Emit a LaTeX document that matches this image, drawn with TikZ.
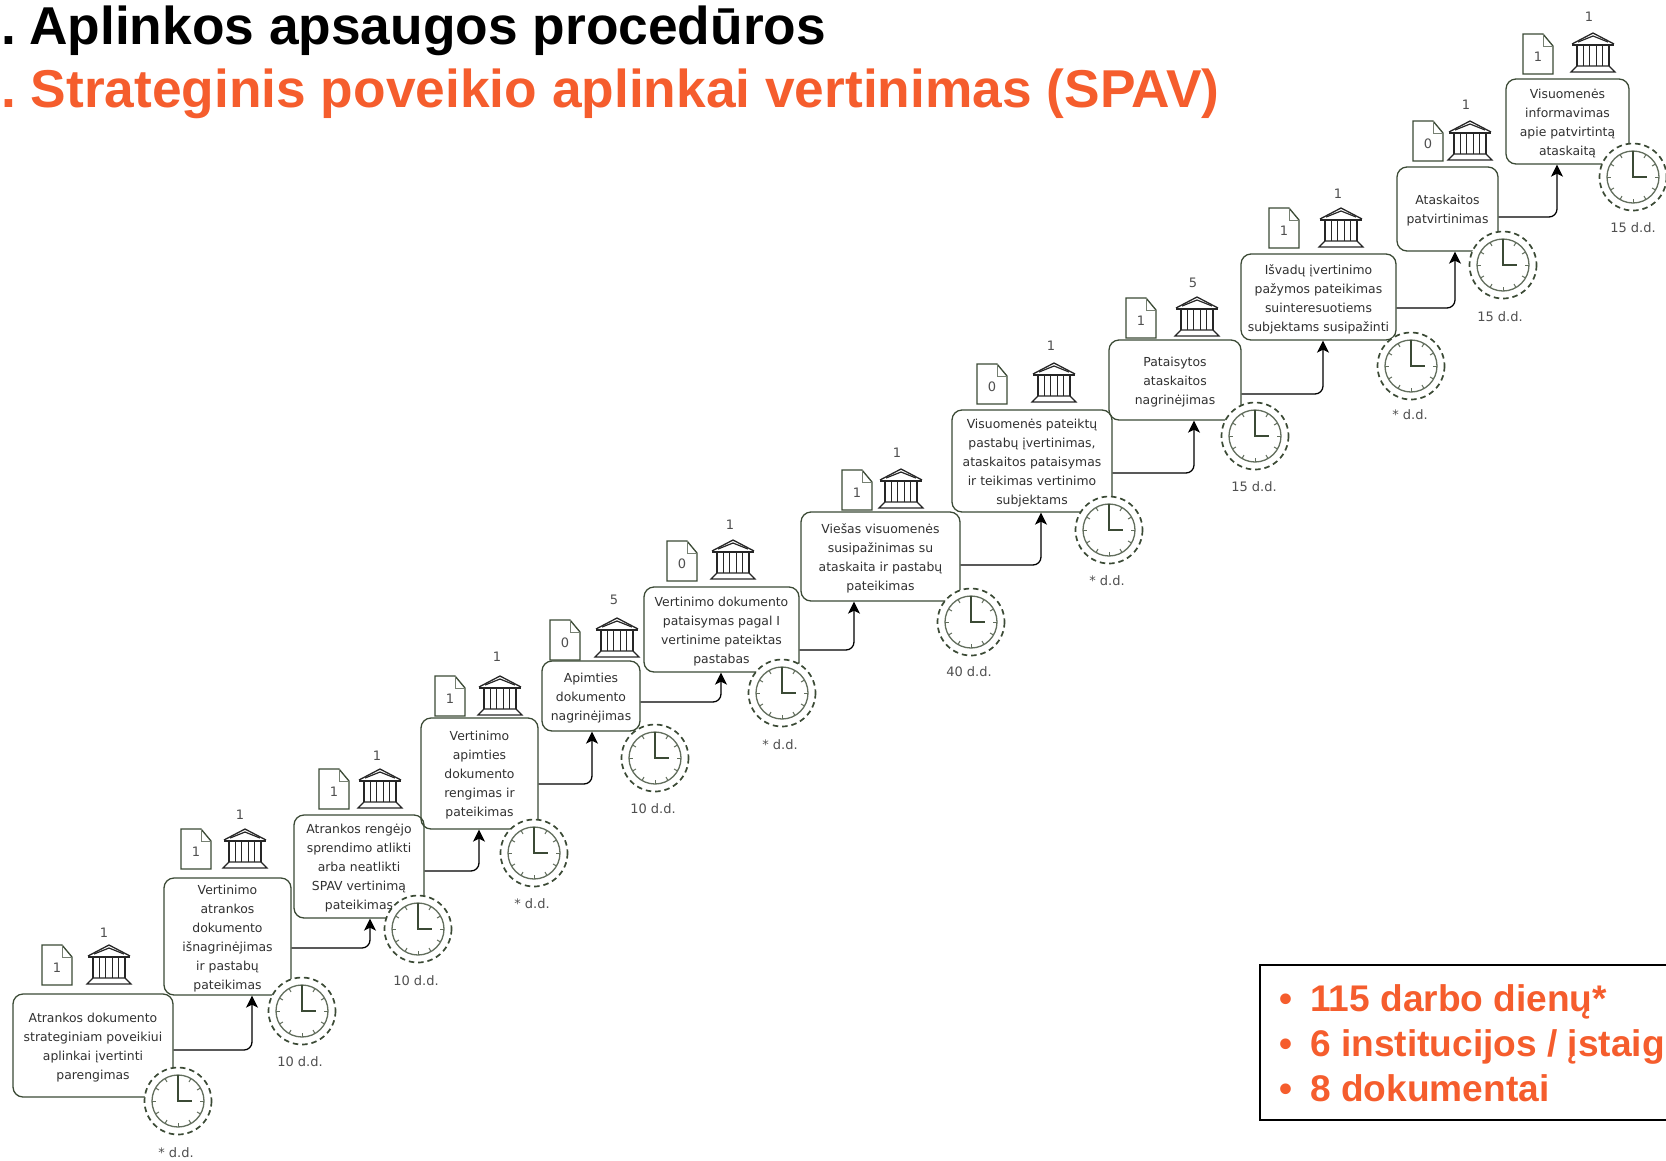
\documentclass[tikz,border=0pt]{standalone}
\usepackage{fontspec}
\setmainfont{Liberation Sans}
\newfontfamily\boxfont{DejaVu Sans}
\usetikzlibrary{arrows.meta}
\definecolor{olive}{HTML}{3B4A35}
\definecolor{orangetitle}{HTML}{F55D2D}
\definecolor{boxtext}{HTML}{303030}
\tikzset{
  stepbox/.style={draw=olive,line width=1.3pt,rounded corners=10pt,inner sep=0pt},
  steptext/.style={inner sep=0pt,yshift=-2pt,align=center,text=boxtext,font=\boxfont\fontsize{12.4}{19}\selectfont},
  smalltext/.style={inner sep=0pt,text=boxtext!85,font=\boxfont\fontsize{13}{15}\selectfont},
  titletext/.style={anchor=base west,inner sep=0pt,font=\bfseries\fontsize{53.3}{60}\selectfont},
  factline/.style={anchor=base west,inner sep=0pt,text=orangetitle,font=\bfseries\fontsize{37.1}{45}\selectfont},
  link/.style={draw=black,line width=1.3pt,rounded corners=8pt,-{Stealth[length=12pt,width=12pt,inset=3pt]}},
  docicon/.pic={
    \draw[olive,line width=1.3pt,fill=white] (-15,-20) -- (5,-20) -- (15,-8) -- (15,20) -- (-15,20) -- cycle;
    \draw[olive!70,line width=1pt] (5,-20) -- (5,-8) -- (15,-8);
  },
  bankicon/.pic={
    \draw[black!85,line width=1.3pt,line join=round] (-21,-9) -- (0,-20) -- (21,-9);
    \draw[black!85,line width=1.2pt] (-15,-11) -- (0,-17) -- (15,-11);
    \draw[black!85,line width=2pt] (-21,-8) -- (21,-8);
    \foreach \x in {-16,-9.6,...,16.1}
    {\draw[black!85,line width=1.2pt] (\x,-7) -- (\x,13);}
    \draw[black!85,line width=1.2pt] (-16,13) -- (-22,19) -- (22,19) -- (16,13) -- cycle;
  },
  clockface/.pic={
    \draw[olive,line width=1.7pt,dash pattern=on 5.5pt off 3.9pt,fill=white] (0,0) circle (33.5);
    \draw[olive!80,line width=1.3pt] (0,0) circle (26);
    \foreach \a in {0,30,...,330}
    {\draw[olive!80,line width=1pt] (\a:26) -- (\a:22);}
    \draw[olive,line width=1.4pt] (0,-26) -- (0,0) -- (14,0);
  }
}
\begin{document}
\begin{tikzpicture}[x={(1pt,0)},y={(0,-1pt)}]
  \useasboundingbox (0,0) rectangle (1666,1160);
  \node[titletext] (title) at (1,44) {.\hspace{-6.5pt} Aplinkos apsaugos procedūros};
  \node[titletext,text=orangetitle] (subtitle) at (1,107) {.\hspace{-5pt} Strateginis poveikio aplinkai vertinimas (SPAV)};
  % steps
  \foreach \n/\x/\y/\w/\h/\lbl in {
    1/93/1045.5/160/103/{Atrankos dokumento\\strateginiam poveikiui\\aplinkai įvertinti\\parengimas},
    2/227.5/936.5/127/117/{Vertinimo\\atrankos\\dokumento\\išnagrinėjimas\\ir pastabų\\pateikimas},
    3/359/866.5/130/103/{Atrankos rengėjo\\sprendimo atlikti\\arba neatlikti\\SPAV vertinimą\\pateikimas},
    4/479.5/773.5/117/111/{Vertinimo\\apimties\\dokumento\\rengimas ir\\pateikimas},
    5/591/696/98/70/{Apimties\\dokumento\\nagrinėjimas},
    6/721.5/629.5/155/85/{Vertinimo dokumento\\pataisymas pagal I\\vertinime pateiktas\\pastabas},
    7/880.5/556.5/159/89/{Viešas visuomenės\\susipažinimas su\\ataskaita ir pastabų\\pateikimas},
    8/1032/461/160/102/{Visuomenės pateiktų\\pastabų įvertinimas,\\ataskaitos pataisymas\\ir teikimas vertinimo\\subjektams},
    9/1175/380/132/80/{Pataisytos\\ataskaitos\\nagrinėjimas},
    10/1318.5/297/155/86/{Išvadų įvertinimo\\pažymos pateikimas\\suinteresuotiems\\subjektams susipažinti},
    11/1447.5/209/101/84/{Ataskaitos\\patvirtinimas},
    12/1567.5/121.5/123/85/{Visuomenės\\informavimas\\apie patvirtintą\\ataskaitą}}
  {\node[stepbox,minimum width=\w pt,minimum height=\h pt] (S-\n) at (\x,\y) {};
   \node[steptext] (L-\n) at (S-\n) {\lbl};}
  % links
  \foreach \n/\m/\ey/\tx in {1/2/1050/252,2/3/948/370,3/4/871/479,4/5/784/592,5/6/702/721,6/7/650/854,
    7/8/565/1041,8/9/473/1194,9/10/394/1323,10/11/308/1455,11/12/217/1557}
  {\draw[link] (S-\n.east |- 0,\ey) -| (S-\m.south -| \tx,0);}
  % icons
  \foreach \n/\dx/\dy/\dn/\bx/\by/\bn/\nx/\ny in {
    1/57/965/1/109/965/1/104/933,
    2/196/849/1/245/849/1/240/815,
    3/334/789/1/380/789/1/377/756,
    4/450/696/1/500/696/1/497/657,
    5/565/640/0/617/638/5/614/600,
    6/682/561/0/733/560/1/730/525,
    7/857/490/1/901/489/1/897/453,
    8/992/384/0/1054/383/1/1051/346,
    9/1141/318/1/1197/317/5/1193/283,
    10/1284/228/1/1341/228/1/1338/194,
    11/1428/141/0/1470/141/1/1466/105,
    12/1538/54/1/1593/53/1/1589/17}
  {\pic at (\dx,\dy) {docicon};
   \pic at (\bx,\by) {bankicon};
   \node[smalltext] (D-\n) at (\dx,\dy+3) {\dn};
   \node[smalltext] (N-\n) at (\nx,\ny) {\bn};}
  % clocks
  \foreach \n/\x/\y/\lx/\ly/\tm in {
    1/178/1101/176/1153/{* d.d.},
    2/302/1011/300/1062/{10 d.d.},
    3/418/929/416/981/{10 d.d.},
    4/534/853/532/904/{* d.d.},
    5/655/758/653/809/{10 d.d.},
    6/782/693/780/745/{* d.d.},
    7/971/622/969/672/{40 d.d.},
    8/1109/530/1107/581/{* d.d.},
    9/1255/436/1254/487/{15 d.d.},
    10/1411/366/1410/415/{* d.d.},
    11/1503/265/1500/317/{15 d.d.},
    12/1633/177/1633/228/{15 d.d.}}
  {\pic at (\x,\y) {clockface};
   \node[smalltext] (T-\n) at (\lx,\ly) {\tm};}
  % facts
  \draw[line width=2pt] (1680,965) -- (1260,965) -- (1260,1120) -- (1680,1120);
  \foreach \n/\y/\fact in {1/1011/{115 darbo dienų*},2/1056/{6 institucijos / įstaig},3/1101/{8 dokumentai}}
  {\node[factline] (F-\n) at (1310,\y) {\fact};
   \node[factline,anchor=base] (B-\n) at (1286,\y) {•};}
\end{tikzpicture}
\end{document}
